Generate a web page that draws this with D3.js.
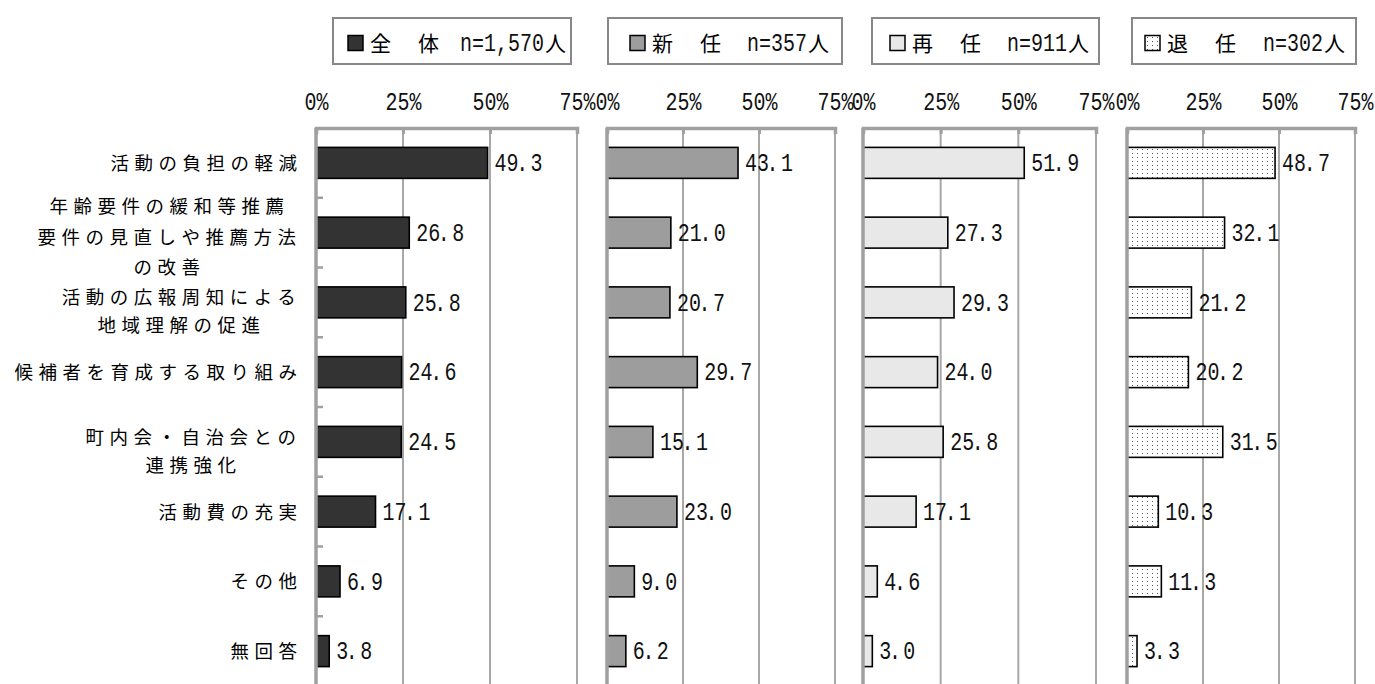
<!DOCTYPE html>
<html>
<head>
<meta charset="utf-8">
<script src="https://cdn.jsdelivr.net/npm/d3@7"></script>
<style>
  body { margin: 0; background: #fff; }
  svg { display: block; }
</style>
</head>
<body>
<svg id="chart" width="1375" height="684"></svg>
<script>
// Survey items (line breaks mark wrapped labels)
const categories = [
  "活動の負担の軽減",
  "年齢要件の緩和等推薦\n要件の見直しや推薦方法\nの改善",
  "活動の広報周知による\n地域理解の促進",
  "候補者を育成する取り組み",
  "町内会・自治会との\n連携強化",
  "活動費の充実",
  "その他",
  "無回答"
];

// Percentages by respondent group
const valuesTotal   = [49.3, 26.8, 25.8, 24.6, 24.5, 17.1, 6.9, 3.8];
const valuesNew     = [43.1, 21.0, 20.7, 29.7, 15.1, 23.0, 9.0, 6.2];
const valuesRenewed = [51.9, 27.3, 29.3, 24.0, 25.8, 17.1, 4.6, 3.0];
const valuesRetired = [48.7, 32.1, 21.2, 20.2, 31.5, 10.3, 11.3, 3.3];

const seriesNames = ["全　体", "新　任", "再　任", "退　任"];
const sampleSizes = ["n=1,570", "n=357", "n=911", "n=302"];
const percentTicks = [0, 25, 50, 75];

const seriesValues = [valuesTotal, valuesNew, valuesRenewed, valuesRetired];

// ---- layout & style ----
const CJK = "'Noto Sans CJK JP', 'Noto Sans CJK SC', sans-serif";
const NUM = "'Liberation Mono', 'DejaVu Sans Mono', monospace";
const NUM_SIZE = 25;
const NUM_SQUEEZE = 0.8;
const AXIS_GRAY = "#a0a0a0";
const GRID_GRAY = "#a8a8a8";
const fills = ["#333333", "#9d9d9d", "#e8e8e8", "url(#dots)"];
const panelSpans = [[316, 577], [607, 835], [863, 1096], [1127, 1355]];
const legendBoxes = [[333, 571], [608, 842], [872, 1099], [1132, 1356]];
// swatch / name / sample-size starting x inside each legend box
const legendSwatchX = [348, 630, 890, 1145];
const legendCountX = [460, 747, 1007, 1263];
const plotTop = 128, plotBottom = 686;

const svg = d3.select("#chart");

// dotted fill
const defs = svg.append("defs");
const pat = defs.append("pattern")
  .attr("id", "dots").attr("patternUnits", "userSpaceOnUse")
  .attr("width", 5).attr("height", 4);
pat.append("rect").attr("width", 5).attr("height", 4).attr("fill", "#fff");
pat.append("rect").attr("x", 2).attr("y", 1).attr("width", 1).attr("height", 1).attr("fill", "#555");

const y = d3.scaleBand()
  .domain(categories)
  .range([plotTop, plotBottom])
  .paddingInner(0.556)
  .paddingOuter(0.278);

function numText(sel, x, yy, anchor) {
  return sel.append("text")
    .attr("transform", `translate(${x},${yy}) scale(${NUM_SQUEEZE},1)`)
    .attr("text-anchor", anchor)
    .attr("dy", "0.33em")
    .attr("font-family", NUM)
    .attr("font-size", NUM_SIZE)
    .attr("fill", "#111");
}

// value label: decimal point sits tight to the integer part, gap before the tenth
function valueLabel(sel, x, yy, v) {
  const [ip, fp] = d3.format(".1f")(v).split(".");
  const t = numText(sel, x, yy, "start");
  t.append("tspan").text(ip);
  t.append("tspan").attr("dx", -3).text(".");
  t.append("tspan").attr("dx", 3).text(fp);
  return t;
}

// ---- panels ----
seriesValues.forEach((vals, i) => {
  const x = d3.scaleLinear().domain([0, 75]).range(panelSpans[i]);
  const g = svg.append("g");

  // vertical gridlines
  g.selectAll("line.grid")
    .data(percentTicks.slice(1))
    .join("line")
    .attr("x1", d => x(d)).attr("x2", d => x(d))
    .attr("y1", plotTop).attr("y2", 684)
    .attr("stroke", GRID_GRAY).attr("stroke-width", 2);

  // bars
  g.selectAll("rect.bar")
    .data(vals)
    .join("rect")
    .attr("x", x(0))
    .attr("y", (d, j) => y(categories[j]))
    .attr("width", d => x(d) - x(0))
    .attr("height", y.bandwidth())
    .attr("fill", fills[i])
    .attr("stroke", "#000")
    .attr("stroke-width", 1.6);

  // value labels
  vals.forEach((v, j) => {
    valueLabel(g, x(v) + 7, y(categories[j]) + y.bandwidth() / 2, v);
  });

  // category axis line
  g.append("line")
    .attr("x1", x(0)).attr("x2", x(0))
    .attr("y1", plotTop).attr("y2", 684)
    .attr("stroke", AXIS_GRAY).attr("stroke-width", 3.5);

  if (i === 0) {
    d3.range(1, categories.length).forEach(k => {
      const yy = plotTop + y.step() * k;
      g.append("line")
        .attr("x1", x(0)).attr("x2", x(0) + 7)
        .attr("y1", yy).attr("y2", yy)
        .attr("stroke", AXIS_GRAY).attr("stroke-width", 2.5);
    });
  }

  // percent axis on top
  const ax = g.append("g")
    .attr("transform", `translate(0,${plotTop})`)
    .call(d3.axisTop(x)
      .tickValues(percentTicks)
      .tickFormat(d => d + "%")
      .tickSizeInner(-6)
      .tickSizeOuter(-6)
      .tickPadding(18));
  ax.select(".domain").attr("stroke", AXIS_GRAY).attr("stroke-width", 3.5);
  ax.selectAll(".tick line").attr("stroke", AXIS_GRAY).attr("stroke-width", 3);
  ax.selectAll(".tick text")
    .attr("font-family", NUM)
    .attr("font-size", NUM_SIZE)
    .attr("fill", "#111")
    .attr("transform", `scale(${NUM_SQUEEZE},1)`);

  // legend box
  const [bx0, bx1] = legendBoxes[i];
  const lg = svg.append("g");
  lg.append("rect")
    .attr("x", bx0).attr("y", 18)
    .attr("width", bx1 - bx0).attr("height", 46)
    .attr("fill", "#fff").attr("stroke", "#888").attr("stroke-width", 2);
  const sx = legendSwatchX[i];
  const cy = 43;
  lg.append("rect")
    .attr("x", sx).attr("y", cy - 7.5)
    .attr("width", 15).attr("height", 15)
    .attr("fill", fills[i]).attr("stroke", "#000").attr("stroke-width", 1.5);
  lg.append("text")
    .attr("x", sx + 22).attr("y", cy).attr("dy", "0.38em")
    .attr("font-family", CJK).attr("font-size", 21)
    .attr("letter-spacing", 3)
    .attr("fill", "#000")
    .text(seriesNames[i]);
  const nx = legendCountX[i];
  const nChars = sampleSizes[i].length;
  numText(lg, nx, cy, "start").text(sampleSizes[i]);
  lg.append("text")
    .attr("x", nx + nChars * NUM_SIZE * 0.6 * NUM_SQUEEZE + 1).attr("y", cy).attr("dy", "0.38em")
    .attr("font-family", CJK).attr("font-size", 21)
    .attr("fill", "#000")
    .text("人");
});

// ---- category labels ----
const LBL_SIZE = 18.5, LBL_LS = 5.5, LBL_PITCH = LBL_SIZE + LBL_LS;
const labelRight = 296;
categories.forEach(c => {
  const lines = c.split("\n");
  const n = lines.length;
  const maxLen = d3.max(lines, l => l.length);
  const blockW = maxLen * LBL_PITCH - LBL_LS;
  const cx = labelRight - blockW / 2 + LBL_LS / 2;
  const lineH = n === 3 ? 30.5 : 28;
  const yc = y(c) + y.bandwidth() / 2 + (n === 3 ? 4 : n === 2 ? 9 : 0);
  lines.forEach((l, k) => {
    svg.append("text")
      .attr("x", n > 1 ? cx : labelRight + 1 + LBL_LS)
      .attr("y", yc + (k - (n - 1) / 2) * lineH)
      .attr("dy", "0.38em")
      .attr("text-anchor", n > 1 ? "middle" : "end")
      .attr("font-family", CJK)
      .attr("font-size", LBL_SIZE)
      .attr("letter-spacing", LBL_LS)
      .attr("fill", "#000")
      .text(l);
  });
});
</script>
</body>
</html>
